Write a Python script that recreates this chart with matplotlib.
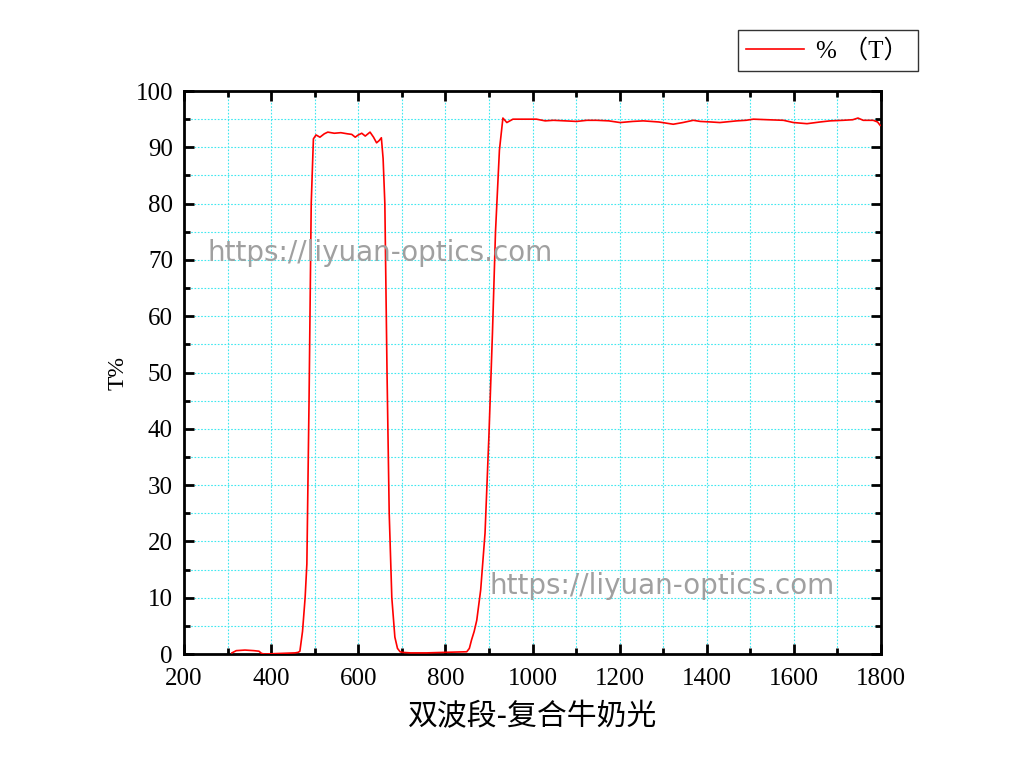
import matplotlib
matplotlib.use("Agg")
import matplotlib.pyplot as plt
from matplotlib.ticker import MultipleLocator

wavelength = [310, 320, 340, 360, 372, 378, 385, 420, 455, 462, 466, 472, 478, 482, 487, 492, 497,
              503, 512, 522, 530, 545, 560, 575, 585, 593, 600, 608, 616, 627, 635, 642, 648, 653, 657,
              661, 666, 671, 677, 684, 690, 696, 700, 720, 757, 800, 849, 855, 860, 866, 872, 881,
              891, 900, 908, 915, 924, 932, 941, 955, 971, 1009, 1029, 1048, 1075, 1101, 1125, 1147,
              1175, 1201, 1230, 1254, 1290, 1323, 1345, 1369, 1385, 1410, 1430, 1469, 1490, 1507,
              1540, 1576, 1599, 1630, 1660, 1683, 1713, 1735, 1747, 1759, 1782, 1792, 1798]
transmit = [0.2, 0.6, 0.7, 0.6, 0.5, 0.1, 0.0, 0.1, 0.2, 0.3, 0.5, 4.0, 10.0, 16.0, 45.0, 80.0, 91.5,
            92.2, 91.8, 92.4, 92.7, 92.5, 92.6, 92.4, 92.3, 91.8, 92.2, 92.5, 92.0, 92.7, 91.8, 90.8, 91.2, 91.7, 88.0,
            80.0, 50.0, 25.0, 10.0, 3.0, 1.0, 0.4, 0.3, 0.2, 0.2, 0.3, 0.4, 1.0, 2.5, 4.0, 6.0, 11.4,
            21.5, 39.0, 57.0, 75.0, 89.5, 95.2, 94.4, 95.0, 95.0, 95.0, 94.7, 94.8, 94.7, 94.6, 94.8, 94.8,
            94.7, 94.4, 94.6, 94.7, 94.5, 94.1, 94.4, 94.8, 94.6, 94.5, 94.4, 94.7, 94.8, 95.0,
            94.9, 94.8, 94.4, 94.2, 94.5, 94.7, 94.8, 94.9, 95.2, 94.8, 94.8, 94.5, 93.9]

x_label = "双波段-复合牛奶光"
y_label = "T%"
legend_label = "% （T）"
watermark = "https://liyuan-optics.com"

serif = ["Liberation Serif", "Noto Sans CJK SC"]

fig = plt.figure(figsize=(10.24, 7.84), dpi=100)
ax = fig.add_axes([0.1797, 0.1658, 0.6807, 0.7181])

line, = ax.plot(wavelength, transmit, color="#ff0000", lw=1.2, label=legend_label, zorder=3)

ax.set_xlim(200, 1800)
ax.set_ylim(0, 100)
ax.xaxis.set_major_locator(MultipleLocator(200))
ax.xaxis.set_minor_locator(MultipleLocator(100))
ax.yaxis.set_major_locator(MultipleLocator(10))
ax.yaxis.set_minor_locator(MultipleLocator(5))

ax.grid(True, which="both", color="#40e8f0", linestyle=(0, (1.5, 1.5)), lw=0.8, zorder=0)
ax.tick_params(which="both", direction="in", top=True, right=True, width=2, colors="black")
ax.tick_params(which="major", length=7, labelsize=18)
ax.tick_params(axis="x", which="major", pad=10)
ax.tick_params(axis="y", which="major", pad=8)
ax.tick_params(which="minor", length=4)
for lab in ax.get_xticklabels() + ax.get_yticklabels():
    lab.set_family(serif)
for sp in ax.spines.values():
    sp.set_linewidth(2)

ax.set_xlabel(x_label, fontsize=21.5, family=["Noto Sans CJK SC"], labelpad=8)
ax.set_ylabel(y_label, fontsize=17, family=serif, labelpad=5)

leg = fig.legend(handles=[line], loc="upper right", bbox_to_anchor=(0.896, 0.962),
                 prop={"family": serif, "size": 18}, frameon=True, fancybox=False,
                 edgecolor="black", handlelength=2.3, borderpad=0.35, handletextpad=0.5,
                 borderaxespad=0)
leg.get_frame().set_linewidth(1.0)

fig.text(207 / 1024, 1 - 253 / 784, watermark, fontsize=20, color="#a0a0a0",
         family="DejaVu Sans", va="center", ha="left", zorder=5)
fig.text(490 / 1024, 1 - 586 / 784, watermark, fontsize=20, color="#a0a0a0",
         family="DejaVu Sans", va="center", ha="left", zorder=5)

fig.savefig("out.png", dpi=100)
